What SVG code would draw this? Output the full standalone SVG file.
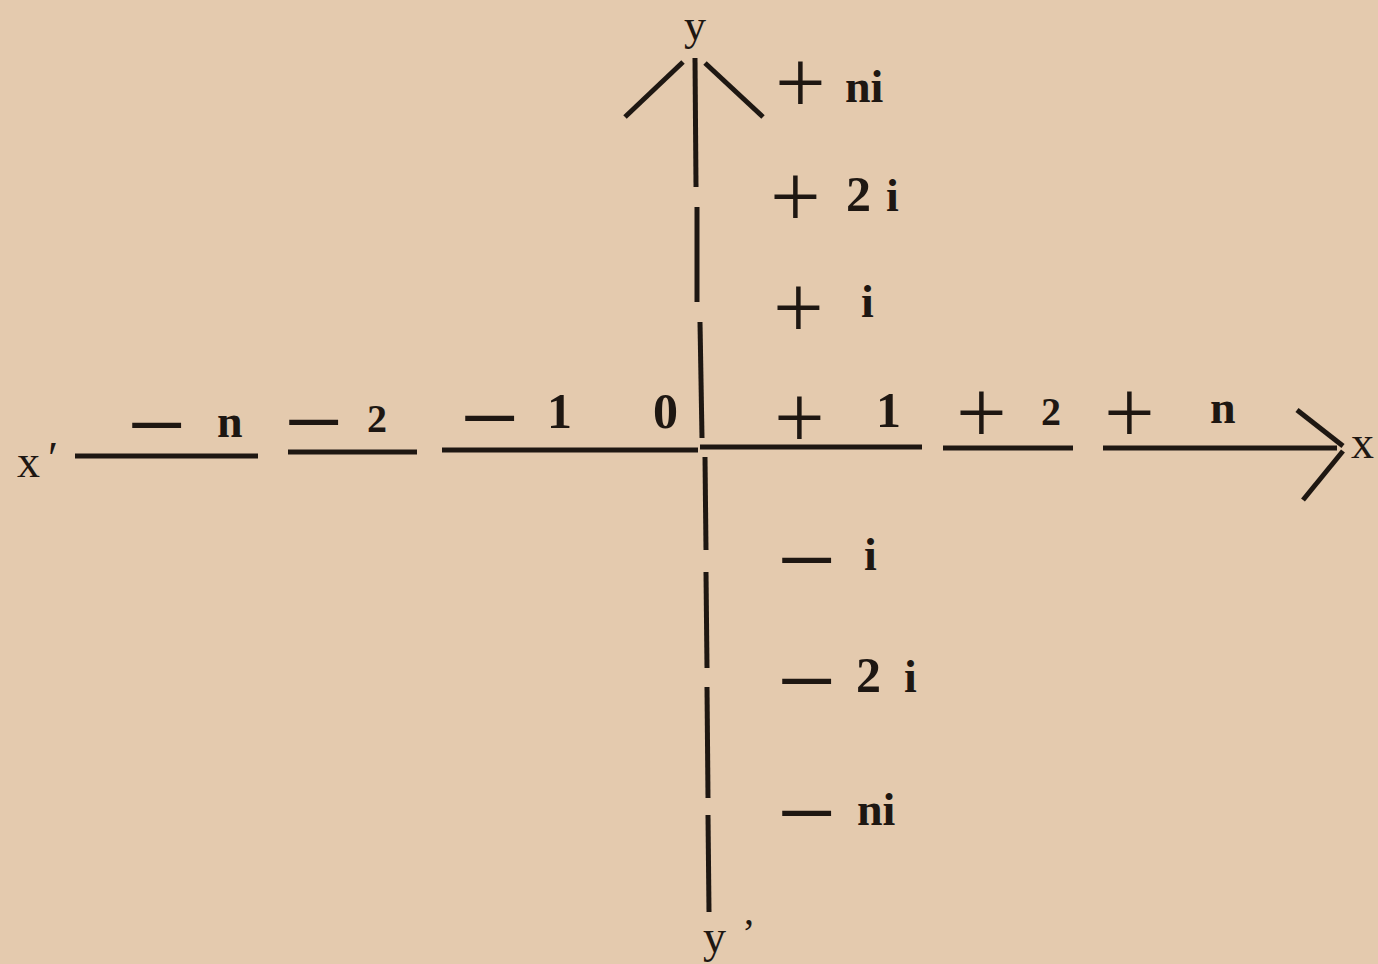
<svg xmlns="http://www.w3.org/2000/svg" width="1378" height="964" viewBox="0 0 1378 964">
<style>
.ax{stroke:#1e1712;stroke-width:5;fill:none;stroke-linecap:butt}
.t{font-family:"Liberation Serif","Times New Roman",serif;fill:#1e1712}
.s{font-size:90px}
.m{font-size:105px}
.l{font-size:46px;font-weight:bold}
.d{font-size:40px;font-weight:bold}
.D{font-size:50px;font-weight:bold}
.n{font-size:46px}
</style>
<rect width="1378" height="964" fill="#e4caae"/>
<g id="axes">
<g id="y-axis">
<line class="ax" x1="695" y1="58" x2="696" y2="187"/>
<line class="ax" x1="697" y1="207" x2="697" y2="302"/>
<line class="ax" x1="700" y1="322" x2="702" y2="438"/>
<line class="ax" x1="705" y1="457" x2="706" y2="550"/>
<line class="ax" x1="706" y1="572" x2="707" y2="668"/>
<line class="ax" x1="707" y1="687" x2="708" y2="798"/>
<line class="ax" x1="708" y1="815" x2="709" y2="912"/>
<line class="ax" x1="625" y1="117" x2="683" y2="62"/>
<line class="ax" x1="705" y1="63" x2="763" y2="117"/>
</g>
<g id="x-axis">
<line class="ax" x1="75" y1="456" x2="258" y2="456"/>
<line class="ax" x1="288" y1="452" x2="417" y2="452"/>
<line class="ax" x1="442" y1="450" x2="698" y2="450"/>
<line class="ax" x1="700" y1="447" x2="922" y2="447"/>
<line class="ax" x1="943" y1="448" x2="1073" y2="448"/>
<line class="ax" x1="1103" y1="448" x2="1337" y2="448"/>
<line class="ax" x1="1297" y1="410" x2="1343" y2="446"/>
<line class="ax" x1="1343" y1="451" x2="1303" y2="500"/>
</g>
</g>
<g id="axis-names">
<text class="t" x="695" y="40" text-anchor="middle" font-size="44">y</text>
<text class="t n" x="703" y="952">y<tspan x="742" y="946" font-size="40">’</tspan></text>
<text class="t n" x="17" y="477">x<tspan x="48" y="474">′</tspan></text>
<text class="t n" x="1351" y="458">x</text>
</g>
<g id="label-plus-ni"><text class="t"><tspan class="s" x="775" y="113">+</tspan><tspan class="l" x="845" y="102">ni</tspan></text></g>
<g id="label-plus-2i"><text class="t"><tspan class="s" x="770" y="227">+</tspan><tspan class="D" x="846" y="211">2</tspan><tspan class="l" x="886" y="211">i</tspan></text></g>
<g id="label-plus-i"><text class="t"><tspan class="s" x="773" y="338">+</tspan><tspan class="l" x="861" y="317">i</tspan></text></g>
<g id="label-minus-n"><text class="t"><tspan class="m" x="127" y="460">−</tspan><tspan class="l" x="217" y="437" font-weight="normal">n</tspan></text></g>
<g id="label-minus-2"><text class="t"><tspan class="m" x="284" y="457">−</tspan><tspan class="d" x="367" y="432">2</tspan></text></g>
<g id="label-minus-1"><text class="t"><tspan class="m" x="460" y="453">−</tspan><tspan class="D" x="547" y="428">1</tspan></text></g>
<g id="label-zero"><text class="t D" x="653" y="428">0</text></g>
<g id="label-plus-1"><text class="t"><tspan class="s" x="774" y="448">+</tspan><tspan class="D" x="876" y="427">1</tspan></text></g>
<g id="label-plus-2"><text class="t"><tspan class="s" x="956" y="443">+</tspan><tspan class="d" x="1041" y="425">2</tspan></text></g>
<g id="label-plus-n"><text class="t"><tspan class="s" x="1104" y="443">+</tspan><tspan class="l" x="1210" y="423">n</tspan></text></g>
<g id="label-minus-i"><text class="t"><tspan class="m" x="777" y="595">−</tspan><tspan class="l" x="864" y="570">i</tspan></text></g>
<g id="label-minus-2i"><text class="t"><tspan class="m" x="777" y="716">−</tspan><tspan class="D" x="856" y="692">2</tspan><tspan class="l" x="904" y="692">i</tspan></text></g>
<g id="label-minus-ni"><text class="t"><tspan class="m" x="777" y="848">−</tspan><tspan class="l" x="857" y="825">ni</tspan></text></g>
</svg>
